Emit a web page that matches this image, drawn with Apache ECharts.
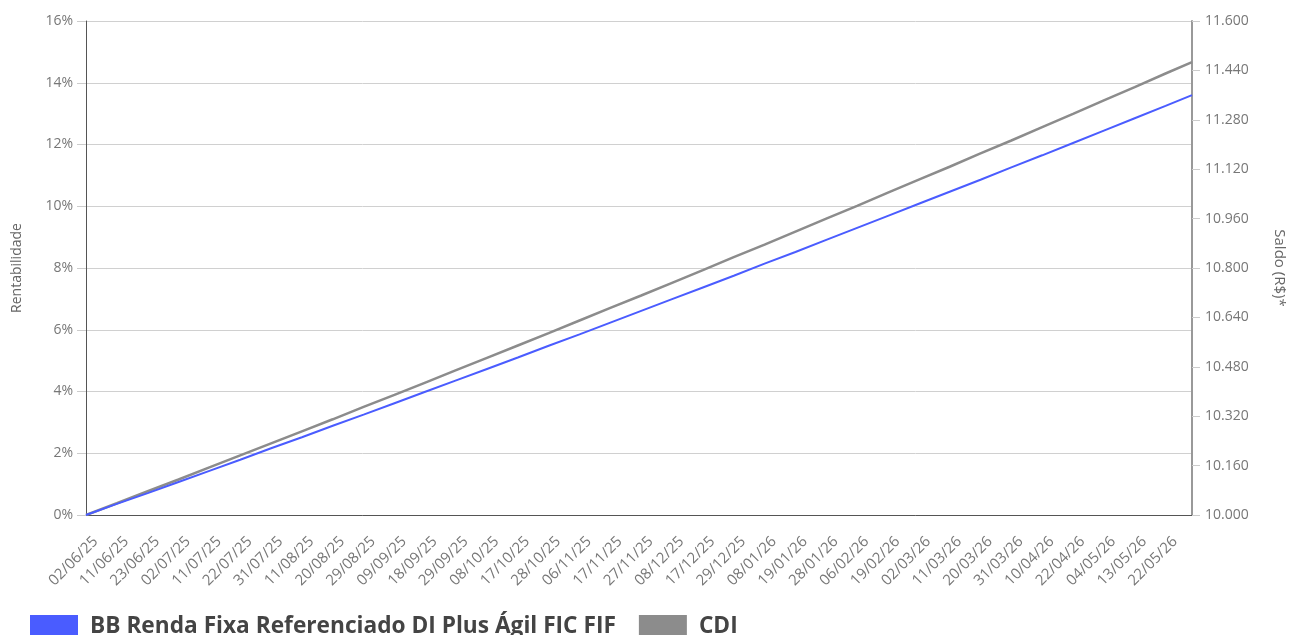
<!DOCTYPE html>
<html>
<head>
<meta charset="utf-8">
<script src="https://cdn.jsdelivr.net/npm/echarts@6/dist/echarts.min.js"></script>
<style>
html,body{margin:0;padding:0;background:#fff;overflow:hidden;}
#c{width:1289px;height:635px;}
</style>
</head>
<body>
<div id="c"></div>
<script>
// x positions: business-day index of each labelled date (+ final day)
var dayIndex = [0,7,14,21,28,35,42,49,56,63,70,77,84,91,98,105,112,119,126,133,140,147,154,161,168,175,182,189,196,203,210,217,224,231,238,245,251];
var dateLabels = ['02/06/25','11/06/25','23/06/25','02/07/25','11/07/25','22/07/25','31/07/25','11/08/25','20/08/25','29/08/25','09/09/25','18/09/25','29/09/25','08/10/25','17/10/25','28/10/25','06/11/25','17/11/25','27/11/25','08/12/25','17/12/25','29/12/25','08/01/26','19/01/26','28/01/26','06/02/26','19/02/26','02/03/26','11/03/26','20/03/26','31/03/26','10/04/26','22/04/26','04/05/26','13/05/26','22/05/26'];
var fundValues = [0,0.36,0.71,1.07,1.43,1.79,2.16,2.52,2.89,3.25,3.62,3.99,4.36,4.73,5.10,5.48,5.85,6.23,6.61,6.99,7.37,7.75,8.14,8.52,8.91,9.30,9.69,10.08,10.47,10.86,11.26,11.65,12.05,12.45,12.85,13.25,13.60];
var cdiValues = [0,0.38,0.77,1.15,1.54,1.93,2.32,2.71,3.10,3.50,3.89,4.29,4.69,5.09,5.49,5.89,6.30,6.71,7.11,7.52,7.93,8.35,8.76,9.18,9.60,10.01,10.44,10.86,11.28,11.71,12.13,12.56,12.99,13.43,13.86,14.30,14.67];
var seriesNames = ['BB Renda Fixa Referenciado DI Plus Ágil FIC FIF','CDI'];

function pairs(vals){ return dayIndex.map(function(d,i){ return [d, vals[i]]; }); }
function fmtBR(v){ return String(Math.round(v)).replace(/\B(?=(\d{3})+(?!\d))/g,'.'); }

var FONT = 'Open Sans';
var chart = echarts.init(document.getElementById('c'));
chart.setOption({
  animation:false,
  textStyle:{fontFamily:FONT},
  grid:{left:86,right:97,top:21,bottom:120,containLabel:false,outerBoundsMode:'none'},
  legend:{
    left:30, top:615, padding:0, itemWidth:48, itemHeight:24, itemGap:23,
    icon:'rect',
    textStyle:{fontFamily:FONT,fontSize:22.7,fontWeight:'bold',color:'#444',padding:[0,0,0,7]},
    data:seriesNames
  },
  xAxis:{
    type:'value', min:0, max:251, interval:7,
    axisLine:{show:true,lineStyle:{color:'#555',width:1}},
    axisTick:{show:false},
    splitLine:{show:false},
    axisLabel:{
      rotate:45, fontSize:15, color:'#777', margin:23, fontFamily:FONT,
      verticalAlign:'top', padding:[0,-6,0,0],
      showMaxLabel:false,
      formatter:function(v){ return (v%7===0 && dateLabels[v/7]) ? dateLabels[v/7] : ''; }
    }
  },
  yAxis:[{
    type:'value', min:0, max:16, interval:2, position:'left',
    name:'Rentabilidade', nameLocation:'middle', nameGap:62, nameRotate:90,
    nameTextStyle:{fontSize:14,color:'#666',fontFamily:FONT},
    axisLine:{show:true,lineStyle:{color:'#555',width:1}},
    axisTick:{show:true,length:9,lineStyle:{color:'#ccc'}},
    splitLine:{show:true,lineStyle:{color:'#d0d0d0',width:1}},
    axisLabel:{fontSize:14,color:'#777',margin:13,formatter:'{value}%'}
  },{
    type:'value', min:10000, max:11600, interval:160, position:'right',
    name:'Saldo (R$)*', nameLocation:'middle', nameGap:80, nameRotate:-90,
    nameTextStyle:{fontSize:15,color:'#666',fontFamily:FONT},
    axisLine:{show:true,lineStyle:{color:'#999',width:2}},
    axisTick:{show:true,length:8,lineStyle:{color:'#ccc'}},
    splitLine:{show:false},
    axisLabel:{fontSize:14,color:'#777',margin:13,formatter:fmtBR}
  }],
  series:[{
    name:seriesNames[0], type:'line', data:pairs(fundValues),
    showSymbol:false, symbol:'none', smooth:false,
    lineStyle:{color:'#4a5cff',width:2}, itemStyle:{color:'#4a5cff'}, z:3
  },{
    name:seriesNames[1], type:'line', data:pairs(cdiValues),
    showSymbol:false, symbol:'none', smooth:false,
    lineStyle:{color:'#8c8c8c',width:2.5}, itemStyle:{color:'#8c8c8c'}, z:2
  }]
});
</script>
</body>
</html>
